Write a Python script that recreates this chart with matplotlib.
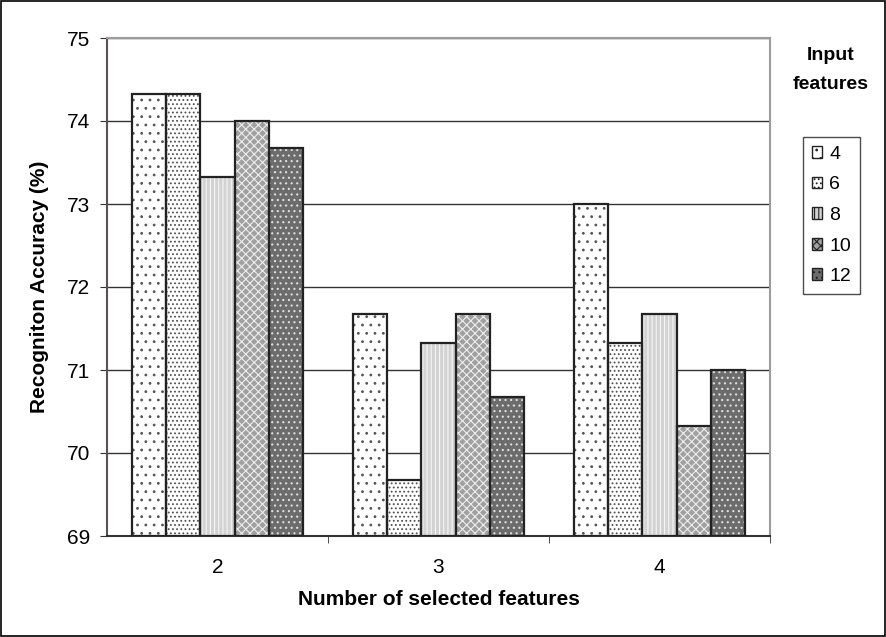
"""Grouped bar chart: recognition accuracy by number of selected features."""

import matplotlib.pyplot as plt
import numpy as np
from matplotlib.patches import Patch

CATEGORIES = ["2", "3", "4"]
SERIES_NAMES = ["4", "6", "8", "10", "12"]

ACC_INPUT_4 = [74.33, 71.67, 73.0]
ACC_INPUT_6 = [74.33, 69.67, 71.33]
ACC_INPUT_8 = [73.33, 71.33, 71.67]
ACC_INPUT_10 = [74.0, 71.67, 70.33]
ACC_INPUT_12 = [73.67, 70.67, 71.0]

Y_TICKS = [69, 70, 71, 72, 73, 74, 75]

# face colour, hatch, hatch colour for each series
STYLES = [
    ("white", "..", "#555555"),
    ("white", "....", "#505050"),
    ("#d2d2d2", "||||", "#f6f6f6"),
    ("#a0a0a0", "xxxx", "#eeeeee"),
    ("#6c6c6c", "...", "#e0e0e0"),
]

BASE = 69


def main() -> None:
    plt.rcParams["font.family"] = ["Liberation Sans", "DejaVu Sans"]
    plt.rcParams["hatch.linewidth"] = 0.8

    series = [ACC_INPUT_4, ACC_INPUT_6, ACC_INPUT_8, ACC_INPUT_10, ACC_INPUT_12]

    fig = plt.figure(figsize=(8.86, 6.37), dpi=100)
    ax = fig.add_axes([107 / 886, 1 - 536 / 637, 663 / 886, 498 / 637])

    x = np.arange(len(CATEGORIES))
    width = 0.154
    for i, (vals, (face, hatch, hcol)) in enumerate(zip(series, STYLES)):
        pos = x + (i - 2) * width
        heights = np.array(vals) - BASE
        ax.bar(pos, heights, width, bottom=BASE, color=face, hatch=hatch,
               edgecolor=hcol, linewidth=0, zorder=3)
        ax.bar(pos, heights, width, bottom=BASE, fill=False,
               edgecolor="#222222", linewidth=1.6, zorder=4)

    ax.set_xlim(-0.5, 2.5)
    ax.set_ylim(69, 75)
    ax.set_yticks(Y_TICKS)
    ax.set_yticklabels([str(t) for t in Y_TICKS], fontsize=15)
    ax.set_xticks(x)
    ax.set_xticklabels(CATEGORIES, fontsize=15)
    ax.tick_params(axis="x", length=0, pad=16)
    ax.set_xticks([0.5, 1.5, 2.5], minor=True)
    ax.tick_params(axis="x", which="minor", length=5, direction="out",
                   color="#333333")
    ax.tick_params(axis="y", length=5, direction="out", color="#333333", pad=7)

    ax.grid(axis="y", color="#333333", linewidth=1.0, zorder=0)
    ax.set_axisbelow(True)

    for side in ("top", "right"):
        ax.spines[side].set_color("#a09a9a")
        ax.spines[side].set_linewidth(1.5)
    ax.spines["left"].set_color("#5a5252")
    ax.spines["left"].set_linewidth(1.5)
    ax.spines["bottom"].set_color("#333333")
    ax.spines["bottom"].set_linewidth(1.5)

    ax.set_xlabel("Number of selected features", fontsize=15, fontweight="bold",
                  labelpad=9)
    ax.set_ylabel("Recogniton Accuracy (%)", fontsize=15, fontweight="bold",
                  labelpad=13)

    handles = [Patch(facecolor=face, hatch=hatch, edgecolor="#222222")
               for face, hatch, _ in STYLES]
    fig.text(831 / 886, 1 - 70 / 637, "Input\nfeatures", ha="center",
             va="center", fontsize=14, fontweight="bold", linespacing=1.9)
    leg = fig.legend(handles, SERIES_NAMES, loc="upper left",
                     bbox_to_anchor=(803 / 886, 1 - 137 / 637), fontsize=14,
                     frameon=True, fancybox=False, edgecolor="#222222",
                     handlelength=0.55, handleheight=0.55, handletextpad=0.35,
                     labelspacing=0.7, borderpad=0.45, borderaxespad=0)
    leg.get_frame().set_linewidth(1.0)

    # border round the whole figure
    fig.patches.append(plt.Rectangle((0.001, 0.001), 0.998, 0.997,
                                     transform=fig.transFigure, fill=False,
                                     edgecolor="black", linewidth=1.2))

    fig.savefig("out.png", dpi=100)
    plt.close(fig)


if __name__ == "__main__":
    main()
